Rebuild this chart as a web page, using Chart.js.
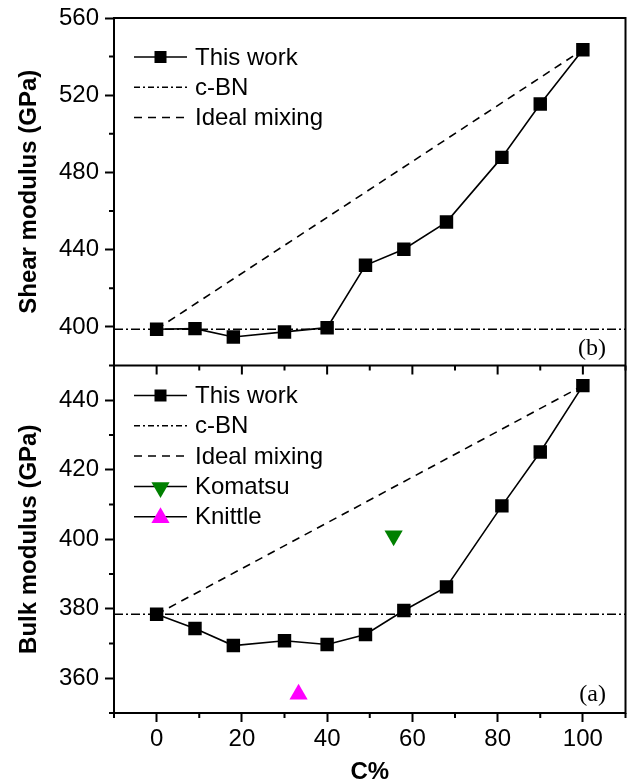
<!DOCTYPE html>
<html>
<head>
<meta charset="utf-8">
<script src="https://cdn.jsdelivr.net/npm/chart.js@4"></script>
<style>
  html, body { margin: 0; padding: 0; background: #fff; }
</style>
</head>
<body>
<canvas id="modChart" width="636" height="784"></canvas>
<script>
// carbon content (%) of the computed structures
const carbon = [0, 9, 18, 30, 40, 49, 58, 68, 81, 90, 100]
const shearWork = [398.8, 399.1, 394.8, 397.4, 399.6, 431.9, 440.2, 454.3, 487.8, 515.5, 543.6]
const bulkWork = [378.4, 374.3, 369.4, 370.8, 369.7, 372.6, 379.5, 386.3, 409.6, 425.1, 444.2]
const shearCBN = 398.8
const bulkCBN = 378.4
const komatsu = {x: 55.6, y: 401}
const knittle = {x: 33.3, y: 355.4}

const xTicks = [0, 20, 40, 60, 80, 100]
const xMinor = [-10, 10, 30, 50, 70, 90, 110]
const shearTicks = [400, 440, 480, 520, 560]
const shearMinor = [380, 420, 460, 500, 540]
const bulkTicks = [360, 380, 400, 420, 440]
const bulkMinor = [350, 370, 390, 410, 430, 450]

const FONT = '"Liberation Sans", Arial, sans-serif'
Chart.defaults.font.family = FONT
Chart.defaults.color = '#000'

const DASHDOT = [9, 3, 2, 3]
const DASH = [8, 6]

function pts(xs, ys) {
  return xs.map((x, i) => ({x: x, y: ys[i]}))
}

function workSet(ys, axis) {
  return {
    data: pts(carbon, ys), yAxisID: axis, showLine: true,
    borderColor: '#000', backgroundColor: '#000', borderWidth: 1.6,
    pointStyle: 'rect', pointRadius: 9.5, pointBorderWidth: 0
  }
}
function flatSet(v, axis) {
  return {
    data: pts([-10, 110], [v, v]), yAxisID: axis, showLine: true,
    borderColor: '#000', borderWidth: 1.6, borderDash: DASHDOT, pointRadius: 0
  }
}
function idealSet(ys, axis) {
  const last = ys.length - 1
  return {
    data: pts([carbon[0], carbon[last]], [ys[0], ys[last]]), yAxisID: axis, showLine: true,
    borderColor: '#000', borderWidth: 1.6, borderDash: DASH, pointRadius: 0
  }
}

function yScale(min, max, ticks, title) {
  return {
    type: 'linear', position: 'left', stack: 'panels', stackWeight: 1,
    min: min, max: max,
    afterBuildTicks: s => { s.ticks = ticks.map(v => ({value: v})) },
    afterFit: s => { s.width = 114 },
    border: {color: '#000', width: 2},
    grid: {drawOnChartArea: false, tickLength: 9, tickWidth: 2, tickColor: '#000'},
    ticks: {font: {size: 24, lineHeight: 1}, padding: 6, color: '#000'},
    title: {display: true, text: title, font: {size: 24, weight: 'bold'}, color: '#000', padding: {top: 15}}
  }
}

const legendRows = {
  yS: [
    {label: 'This work', kind: 'work'},
    {label: 'c-BN', kind: 'dashdot'},
    {label: 'Ideal mixing', kind: 'dash'}
  ],
  yB: [
    {label: 'This work', kind: 'work'},
    {label: 'c-BN', kind: 'dashdot'},
    {label: 'Ideal mixing', kind: 'dash'},
    {label: 'Komatsu', kind: 'down'},
    {label: 'Knittle', kind: 'up'}
  ]
}

function tri(ctx, cx, cy, r, down, color) {
  const s = down ? -1 : 1
  ctx.fillStyle = color
  ctx.beginPath()
  ctx.moveTo(cx, cy - s * r)
  ctx.lineTo(cx + r * 0.866, cy + s * r * 0.5)
  ctx.lineTo(cx - r * 0.866, cy + s * r * 0.5)
  ctx.closePath()
  ctx.fill()
}

const framePlugin = {
  id: 'frame',
  afterDraw(chart) {
    const {ctx, chartArea: a, scales} = chart
    const x = scales.x, yS = scales.yS, yB = scales.yB
    ctx.save()
    ctx.strokeStyle = '#000'
    ctx.lineWidth = 2
    ctx.setLineDash([])
    ctx.strokeRect(a.left, a.top, a.right - a.left, a.bottom - a.top)
    ctx.beginPath()
    ctx.moveTo(a.left, yS.bottom)
    ctx.lineTo(a.right, yS.bottom)
    // inward ticks under the upper panel
    xTicks.forEach(v => { const px = x.getPixelForValue(v); ctx.moveTo(px, yS.bottom); ctx.lineTo(px, yS.bottom + 9) })
    xMinor.forEach(v => { const px = x.getPixelForValue(v); ctx.moveTo(px, yS.bottom); ctx.lineTo(px, yS.bottom + 5) })
    // minor ticks on the outer axes
    xMinor.forEach(v => { const px = x.getPixelForValue(v); ctx.moveTo(px, a.bottom); ctx.lineTo(px, a.bottom + 5) })
    shearMinor.forEach(v => { const py = yS.getPixelForValue(v); ctx.moveTo(a.left, py); ctx.lineTo(a.left - 5, py) })
    bulkMinor.forEach(v => { const py = yB.getPixelForValue(v); ctx.moveTo(a.left, py); ctx.lineTo(a.left - 5, py) })
    ctx.stroke()

    // legends
    const firstRow = {yS: 39, yB: 30}
    ;['yS', 'yB'].forEach(id => {
      const sc = scales[id]
      legendRows[id].forEach((row, i) => {
        const ly = sc.top + firstRow[id] + i * 30.3
        ctx.strokeStyle = '#000'
        ctx.lineWidth = 1.5
        ctx.setLineDash(row.kind === 'dashdot' ? [6, 3, 2, 3] : row.kind === 'dash' ? DASH : [])
        ctx.beginPath()
        ctx.moveTo(134, ly)
        ctx.lineTo(187, ly)
        ctx.stroke()
        ctx.setLineDash([])
        if (row.kind === 'work') {
          ctx.fillStyle = '#000'
          ctx.fillRect(160.5 - 6, ly - 6, 12, 12)
        } else if (row.kind === 'down') {
          tri(ctx, 160.5, ly + 1, 10.5, true, '#008000')
        } else if (row.kind === 'up') {
          tri(ctx, 160.5, ly + 1, 10.5, false, '#ff00ff')
        }
        ctx.fillStyle = '#000'
        ctx.font = '24px ' + FONT
        ctx.textAlign = 'left'
        ctx.textBaseline = 'middle'
        ctx.fillText(row.label, 195, ly + 1)
      })
    })

    // panel letters
    ctx.font = '24px "Liberation Serif", "Times New Roman", serif'
    ctx.textAlign = 'right'
    ctx.textBaseline = 'middle'
    ctx.fillStyle = '#000'
    ctx.fillText('(b)', 606, yS.bottom - 17)
    ctx.fillText('(a)', 606, yB.bottom - 18)
    ctx.restore()
  }
}

const ctx = document.getElementById('modChart')

const graph = new Chart(ctx, {
  type: 'scatter',
  data: {
    datasets: [
      workSet(shearWork, 'yS'),
      flatSet(shearCBN, 'yS'),
      idealSet(shearWork, 'yS'),
      workSet(bulkWork, 'yB'),
      flatSet(bulkCBN, 'yB'),
      idealSet(bulkWork, 'yB'),
      {data: [komatsu], yAxisID: 'yB', pointStyle: 'triangle', rotation: 180,
       pointRadius: 10.5, backgroundColor: '#008000', borderColor: '#008000', pointBorderWidth: 0},
      {data: [knittle], yAxisID: 'yB', pointStyle: 'triangle',
       pointRadius: 10.5, backgroundColor: '#ff00ff', borderColor: '#ff00ff', pointBorderWidth: 0}
    ]
  },
  options: {
    responsive: false,
    animation: false,
    layout: {padding: {top: 16, right: 4, left: 0, bottom: 0}},
    plugins: {legend: {display: false}, tooltip: {enabled: false}},
    scales: {
      x: {
        type: 'linear', position: 'bottom', min: -10, max: 110,
        afterBuildTicks: s => { s.ticks = xTicks.map(v => ({value: v})) },
        afterFit: s => { s.height = 71 },
        border: {color: '#000', width: 2},
        grid: {drawOnChartArea: false, tickLength: 9, tickWidth: 2, tickColor: '#000'},
        ticks: {font: {size: 24}, padding: 3, color: '#000', maxRotation: 0},
        title: {display: true, text: 'C%', font: {size: 24, weight: 'bold', lineHeight: 1}, color: '#000', padding: {top: 0, bottom: 0}}
      },
      yB: yScale(350, 450, bulkTicks, 'Bulk modulus (GPa)'),
      yS: yScale(380, 560, shearTicks, 'Shear modulus (GPa)')
    }
  },
  plugins: [framePlugin]
})
</script>
</body>
</html>
